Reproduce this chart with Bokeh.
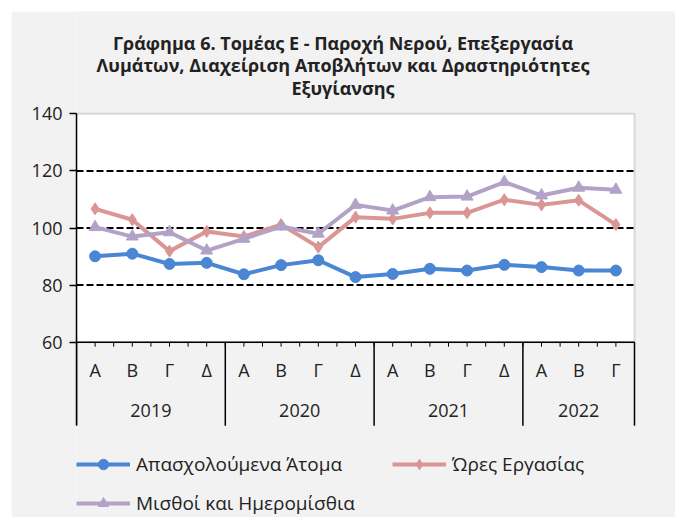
from bokeh.plotting import figure
from bokeh.models import Range1d, FixedTicker, Legend, LegendItem, BoxAnnotation, ColumnDataSource
from bokeh.core.properties import value
from bokeh.embed import file_html
from bokeh.resources import INLINE

# ---- data ----
year_labels = ["2019", "2019", "2019", "2019", "2020", "2020", "2020", "2020",
               "2021", "2021", "2021", "2021", "2022", "2022", "2022"]
quarter_labels = ["Α", "Β", "Γ", "Δ", "Α", "Β", "Γ", "Δ",
                  "Α", "Β", "Γ", "Δ", "Α", "Β", "Γ"]
employed = [90.1, 91.0, 87.4, 87.8, 83.8, 87.0, 88.7, 82.8,
            83.9, 85.7, 85.1, 87.1, 86.3, 85.1, 85.1]
hours = [106.7, 102.9, 91.9, 98.8, 97.0, 101.2, 93.3, 103.8,
         103.2, 105.3, 105.3, 109.9, 108.1, 109.7, 101.2]
wages = [100.3, 97.0, 98.5, 92.1, 96.2, 100.5, 98.0, 108.1,
         106.1, 110.8, 111.0, 116.1, 111.4, 114.1, 113.4]
y_ticks = [60, 80, 100, 120, 140]
grid_ticks = [80, 100, 120]
series_names = ["Απασχολούμενα Άτομα", "Ώρες Εργασίας", "Μισθοί και Ημερομίσθια"]
title_lines = ["Γράφημα 6. Τομέας Ε - Παροχή Νερού, Επεξεργασία",
               "Λυμάτων, Διαχείριση Αποβλήτων και Δραστηριότητες",
               "Εξυγίανσης"]

FONT = value("Open Sans")
TXT = "#222222"
Y_MIN, Y_MAX = 60, 140

n = len(employed)
xs = [i + 0.5 for i in range(n)]

# layout geometry (pixels) -> data units
PX_PER_Y = 228.4 / (Y_MAX - Y_MIN)
PX_PER_X = 37.2


def y_below(px):   # px below the y=60 axis line
    return Y_MIN - px / PX_PER_Y


def y_above(px):   # px above the y=140 frame top
    return Y_MAX + px / PX_PER_Y


p = figure(
    x_range=Range1d(0, 599 / PX_PER_X),
    y_range=Range1d(y_below(175.3), y_above(102.3)),
    width=664, height=506,
    min_border_left=65, min_border_right=0, min_border_top=0, min_border_bottom=0,
    x_axis_location=None,
    output_backend="svg", toolbar_location=None,
    background_fill_color="#f2f2f2", border_fill_color="#f2f2f2",
    outline_line_color=None,
    margin=(11, 0, 0, 11),
)
p.xgrid.visible = False
p.ygrid.visible = False

# white plot area with grey top/right border
p.add_layout(BoxAnnotation(left=0, right=n, bottom=Y_MIN, top=Y_MAX,
                           fill_color="white", fill_alpha=1,
                           line_color="#8c8c8c", line_width=2, level="image"))

# y axis
ya = p.yaxis[0]
ya.ticker = FixedTicker(ticks=y_ticks)
ya.bounds = (y_below(83.5), Y_MAX)
ya.major_label_text_font = "Open Sans"
ya.major_label_text_font_size = "18px"
ya.major_label_text_color = TXT
ya.axis_line_color = "black"
ya.axis_line_width = 1.5
ya.major_tick_out = 7
ya.major_tick_in = 0
ya.major_tick_line_color = "black"
ya.major_tick_line_width = 1.5
ya.minor_tick_line_color = None
ya.major_label_standoff = 7

# dashed gridlines
p.segment(x0=[0] * len(grid_ticks), x1=[n] * len(grid_ticks), y0=grid_ticks, y1=grid_ticks,
          line_color="black", line_width=2, line_dash="7 3")

# category axis line, ticks, separators
p.segment(x0=[0], x1=[n], y0=[Y_MIN], y1=[Y_MIN], line_color="black", line_width=1.5)
tick_x = [k * 0.5 for k in range(1, 2 * n)]
p.segment(x0=tick_x, x1=tick_x, y0=[Y_MIN] * len(tick_x), y1=[y_below(4.5)] * len(tick_x),
          line_color="black", line_width=1)
sep_x = [0] + [i for i in range(1, n) if year_labels[i] != year_labels[i - 1]] + [n]
p.segment(x0=sep_x, x1=sep_x, y0=[Y_MIN] * len(sep_x), y1=[y_below(83.5)] * len(sep_x),
          line_color="black", line_width=1.5)

# category labels
p.text(x=xs, y=[y_below(27.5)] * n, text=quarter_labels, text_font=FONT,
       text_font_size="18px", text_color=TXT, text_align="center", text_baseline="middle")
years = list(dict.fromkeys(year_labels))
year_x = [sum(x for x, yl in zip(xs, year_labels) if yl == y) /
          year_labels.count(y) for y in years]
p.text(x=year_x, y=[y_below(68.5)] * len(years), text=years, text_font=FONT,
       text_font_size="18px", text_color=TXT, text_align="center", text_baseline="middle")

# title
title_x = 266.5 / PX_PER_X
p.text(x=[title_x] * 3, y=[y_above(71.3), y_above(48.8), y_above(26.3)], text=title_lines,
       text_font=FONT, text_font_size="18px", text_font_style="bold", text_color=TXT,
       text_align="center", text_baseline="middle")

# series
colors = ["#4a86d4", "#d99694", "#b3a2c7"]
markers = ["circle", "diamond", "triangle"]
sizes = [11, 12, 12]
values = [employed, hours, wages]
items = []
for name, vals, col, mk, sz in zip(series_names, values, colors, markers, sizes):
    src = ColumnDataSource(dict(x=xs, y=vals))
    lr = p.line("x", "y", source=src, line_color=col, line_width=4)
    sr = p.scatter("x", "y", source=src, marker=mk, size=sz, fill_color=col, line_color=col)
    items.append(LegendItem(label=name, renderers=[lr, sr]))

leg = Legend(items=items, location=(0, 1), orientation="horizontal", ncols=2,
             padding=0, margin=0, spacing=13,
             glyph_width=54, glyph_height=26, label_height=26, label_width=243,
             label_standoff=6, label_text_font="Open Sans", label_text_font_size="19px",
             label_text_color=TXT, background_fill_alpha=0, border_line_color=None)
p.add_layout(leg, "center")

open("out.html", "w").write(file_html(p, INLINE))
